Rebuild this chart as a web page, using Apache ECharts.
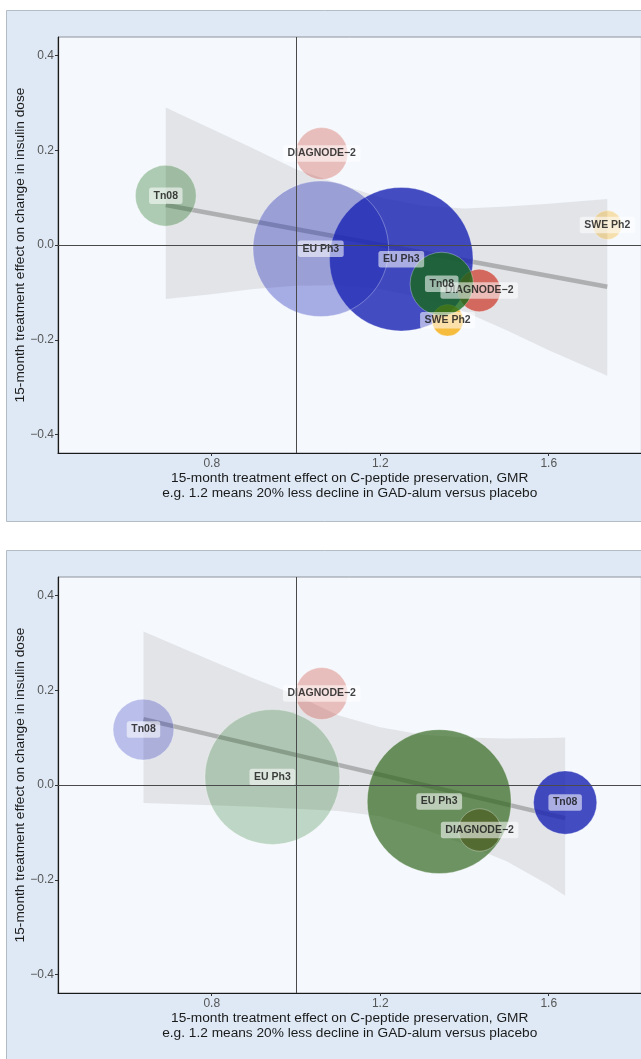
<!DOCTYPE html>
<html>
<head>
<meta charset="utf-8">
<script src="https://cdn.jsdelivr.net/npm/echarts@6/dist/echarts.min.js"></script>
<style>
  html, body { margin: 0; padding: 0; background: #ffffff; }
  #chart { width: 641px; height: 1059px; }
</style>
</head>
<body>
<div id="chart"></div>
<script>
// ---- Axis ticks ----
const xTicks = [0.8, 1.2, 1.6];
const yTicks = [-0.4, -0.2, 0, 0.2, 0.4];

// ---- Panel 1: studies ----
const p1Study   = ['EU Ph3', 'EU Ph3', 'DIAGNODE\u22122', 'Tn08', 'SWE Ph2', 'SWE Ph2', 'DIAGNODE\u22122', 'Tn08'];
const p1Gmr     = [1.250, 1.059, 1.061, 0.691, 1.739, 1.360, 1.435, 1.346];
const p1Insulin = [-0.030, -0.008, 0.193, 0.104, 0.042, -0.159, -0.096, -0.082];
const p1Weight  = [206, 184, 27, 37, 8.4, 9.9, 18, 40];

// Panel 1: weighted fit and its confidence band
const p1FitX    = [0.691, 1.739];
const p1FitY    = [0.0845, -0.088];
const p1BandX   = [0.691, 0.8, 0.9, 1.0, 1.1, 1.2, 1.3, 1.4, 1.5, 1.6, 1.739];
const p1BandHi  = [0.290, 0.245, 0.203, 0.160, 0.130, 0.100, 0.083, 0.077, 0.081, 0.087, 0.097];
const p1BandLo  = [-0.114, -0.104, -0.093, -0.086, -0.085, -0.093, -0.112, -0.141, -0.180, -0.222, -0.276];

// ---- Panel 2: studies ----
const p2Study   = ['Tn08', 'DIAGNODE\u22122', 'EU Ph3', 'EU Ph3', 'DIAGNODE\u22122', 'Tn08'];
const p2Gmr     = [0.638, 1.061, 0.944, 1.340, 1.436, 1.639];
const p2Insulin = [0.117, 0.193, 0.017, -0.035, -0.095, -0.037];
const p2Weight  = [37, 27, 182, 207, 18, 40];

// Panel 2: weighted fit and its confidence band
const p2FitX    = [0.638, 1.639];
const p2FitY    = [0.139, -0.070];
const p2BandX   = [0.638, 0.8, 0.9, 1.0, 1.1, 1.2, 1.3, 1.4, 1.5, 1.6, 1.639];
const p2BandHi  = [0.324, 0.262, 0.225, 0.190, 0.147, 0.122, 0.106, 0.100, 0.098, 0.099, 0.100];
const p2BandLo  = [-0.038, -0.043, -0.046, -0.050, -0.055, -0.066, -0.092, -0.125, -0.161, -0.211, -0.234];

// ---- Bubble fills (style) ----
const p1Fill = [
  'rgba(22,32,178,1)',      // EU Ph3
  'rgba(28,40,184,0.45)',   // EU Ph3 (light)
  'rgba(205,65,50,0.40)',   // DIAGNODE-2 (light)
  'rgba(20,105,20,0.40)',   // Tn08 (light)
  'rgba(245,168,0,0.40)',   // SWE Ph2 (light)
  'rgba(245,168,0,0.95)',   // SWE Ph2
  'rgba(205,65,50,0.95)',   // DIAGNODE-2
  'rgba(22,106,22,0.97)'    // Tn08
];
const p2Fill = [
  'rgba(28,40,184,0.35)',   // Tn08 (light)
  'rgba(205,65,50,0.40)',   // DIAGNODE-2 (light)
  'rgba(20,105,20,0.30)',   // EU Ph3 (light)
  'rgba(45,100,25,0.85)',   // EU Ph3
  'rgba(70,85,20,0.75)',    // DIAGNODE-2
  'rgba(22,32,178,1)'       // Tn08
];

const FONT = '"Liberation Sans", Arial, Helvetica, sans-serif';
const fmtTick = v => (Math.abs(v) < 1e-9 ? '0.0' : v.toFixed(1)).replace('-', '\u2212');

const GRID_LEFT = 58, GRID_W = 583.4, GRID_H = 416;
const panelTops = [37, 577];

function xAxisFor(i) {
  return {
    type: 'value', gridIndex: i, min: 0.4351, max: 1.82,
    splitLine: { show: false },
    axisLine: { show: true, onZero: false, lineStyle: { color: '#1a1a1a', width: 1.2 } },
    axisTick: { show: true, customValues: xTicks, length: 3, lineStyle: { color: '#333', width: 1 } },
    axisLabel: { customValues: xTicks, formatter: fmtTick, color: '#555', fontSize: 12, fontFamily: FONT, margin: 5 },
    name: '15-month treatment effect on C-peptide preservation, GMR\ne.g. 1.2 means 20% less decline in GAD-alum versus placebo',
    nameLocation: 'middle', nameGap: 17,
    nameTextStyle: { color: '#1a1a1a', fontSize: 13.7, fontFamily: FONT, lineHeight: 15 }
  };
}
function yAxisFor(i) {
  return {
    type: 'value', gridIndex: i, min: -0.439, max: 0.439,
    splitLine: { show: false },
    axisLine: { show: true, onZero: false, lineStyle: { color: '#1a1a1a', width: 1.2 } },
    axisTick: { show: true, customValues: yTicks, length: 3, lineStyle: { color: '#333', width: 1 } },
    axisLabel: { customValues: yTicks, formatter: fmtTick, color: '#555', fontSize: 12, fontFamily: FONT, margin: 4 },
    name: '15-month treatment effect on change in insulin dose',
    nameLocation: 'middle', nameRotate: 90, nameGap: 31, nameMoveOverlap: false,
    nameTextStyle: { color: '#1a1a1a', fontSize: 13.7, fontFamily: FONT }
  };
}

function bandSeries(i, bx, hi, lo) {
  return {
    type: 'custom', xAxisIndex: i, yAxisIndex: i, z: 1, silent: true,
    data: bx.map((x, k) => [x, hi[k], lo[k]]),
    encode: { x: 0, y: [1, 2] },
    renderItem: function (params, api) {
      if (params.dataIndex !== 0) return null;
      const pts = [];
      for (let k = 0; k < bx.length; k++) pts.push(api.coord([bx[k], hi[k]]));
      for (let k = bx.length - 1; k >= 0; k--) pts.push(api.coord([bx[k], lo[k]]));
      return { type: 'polygon', shape: { points: pts }, style: { fill: 'rgba(200,200,202,0.42)' } };
    }
  };
}

function fitSeries(i, fx, fy) {
  return {
    type: 'line', xAxisIndex: i, yAxisIndex: i, z: 2, silent: true,
    data: fx.map((x, k) => [x, fy[k]]),
    symbol: 'none',
    lineStyle: { color: 'rgba(140,140,140,0.6)', width: 4.5, cap: 'butt' },
    markLine: {
      silent: true, symbol: 'none', label: { show: false },
      lineStyle: { color: '#4a4a4a', width: 1, type: 'solid' },
      data: [{ xAxis: 1 }, { yAxis: 0 }]
    }
  };
}

function bubbleSeries(i, xs, ys, ws, fills) {
  return {
    type: 'scatter', xAxisIndex: i, yAxisIndex: i, z: 3, silent: true,
    data: xs.map((x, k) => ({
      value: [x, ys[k], ws[k]],
      itemStyle: { color: fills[k] }
    })),
    symbol: 'circle',
    symbolSize: v => 10 * Math.sqrt(v[2]),
    itemStyle: { borderColor: 'rgba(255,255,255,0.55)', borderWidth: 0.7 }
  };
}

function labelSeries(i, xs, ys, names) {
  return {
    type: 'scatter', xAxisIndex: i, yAxisIndex: i, z: 4, silent: true,
    data: xs.map((x, k) => ({ value: [x, ys[k]], name: names[k] })),
    symbolSize: 1,
    itemStyle: { color: 'rgba(0,0,0,0)' },
    label: {
      show: true, position: 'inside', formatter: p => p.name,
      color: '#111', fontSize: 10.5, fontWeight: 'bold', fontFamily: FONT,
      backgroundColor: 'rgba(255,255,255,0.7)', borderRadius: 2.5, padding: [3, 4.5, 2.5, 4.5]
    },
    labelLayout: { hideOverlap: false }
  };
}

const chart = echarts.init(document.getElementById('chart'), null, { renderer: 'canvas' });
chart.setOption({
  animation: false,
  backgroundColor: '#ffffff',
  graphic: [
    { type: 'rect', z: -100, shape: { x: 6.5, y: 10.5, width: 700, height: 511 },
      style: { fill: '#dee9f5', stroke: '#b4bcc6', lineWidth: 1 } },
    { type: 'rect', z: -100, shape: { x: 6.5, y: 550.5, width: 700, height: 600 },
      style: { fill: '#dee9f5', stroke: '#b4bcc6', lineWidth: 1 } }
  ],
  grid: panelTops.map(t => ({
    left: GRID_LEFT, top: t, width: GRID_W, height: GRID_H,
    containLabel: false, outerBoundsMode: 'none',
    show: true, backgroundColor: '#f5f9fe', borderColor: '#8f9399', borderWidth: 1
  })),
  xAxis: [xAxisFor(0), xAxisFor(1)],
  yAxis: [yAxisFor(0), yAxisFor(1)],
  series: [
    bandSeries(0, p1BandX, p1BandHi, p1BandLo),
    fitSeries(0, p1FitX, p1FitY),
    bubbleSeries(0, p1Gmr, p1Insulin, p1Weight, p1Fill),
    labelSeries(0, p1Gmr, p1Insulin, p1Study),
    bandSeries(1, p2BandX, p2BandHi, p2BandLo),
    fitSeries(1, p2FitX, p2FitY),
    bubbleSeries(1, p2Gmr, p2Insulin, p2Weight, p2Fill),
    labelSeries(1, p2Gmr, p2Insulin, p2Study)
  ]
});
</script>
</body>
</html>
